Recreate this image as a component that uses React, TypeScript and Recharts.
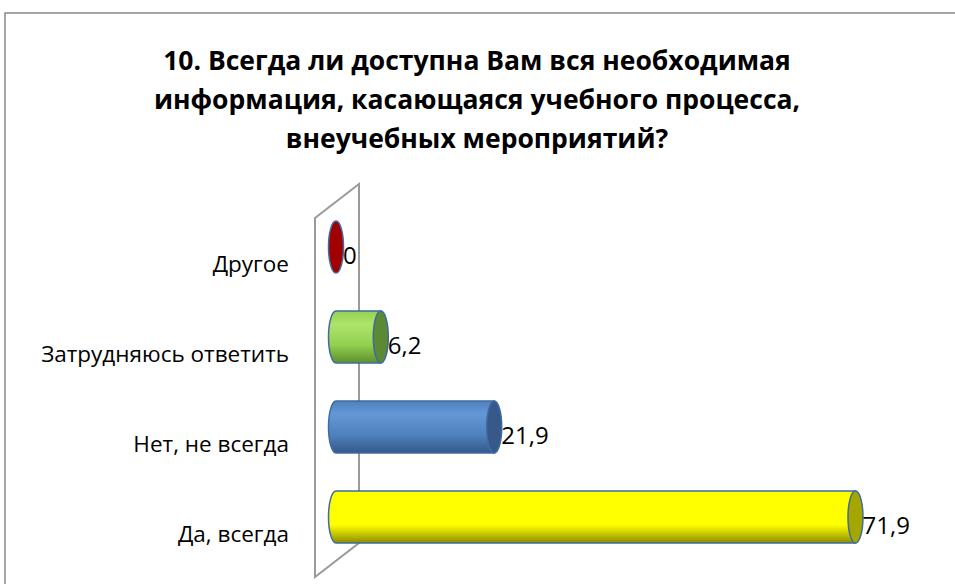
import { BarChart, Bar, XAxis, YAxis, LabelList, Customized } from "recharts";

const categories = ["Другое", "Затрудняюсь ответить", "Нет, не всегда", "Да, всегда"];
const values = [0, 6.2, 21.9, 71.9];
const labels = ["0", "6,2", "21,9", "71,9"];

const palette = [
  { id: "red", light: "#c00000", base: "#a00000", dark: "#6a0000", cap: "#8a0000" },
  { id: "green", light: "#aee46a", base: "#92d050", dark: "#5e8f2c", cap: "#5c8a34" },
  { id: "blue", light: "#6497d6", base: "#4f81bd", dark: "#34598a", cap: "#37598a" },
  { id: "yellow", light: "#ffff00", base: "#ffff00", dark: "#8c8c00", cap: "#a6a600" },
];

const data = categories.map((name, i) => ({ name, value: values[i], label: labels[i] }));

const W = 955;
const H = 584;
const FONT = "'Open Sans', 'Noto Sans', sans-serif";
const STROKE = "#3f6b9e";

function Cylinder(props: any) {
  const { x, y, width, height, index } = props;
  const c = palette[index];
  const rx = 7.5;
  const ry = height / 2;
  const cy = y + ry;
  if (width < 1) {
    return <ellipse cx={x} cy={cy} rx={rx} ry={ry} fill={c.base} stroke={STROKE} strokeWidth={1.5} />;
  }
  return (
    <g>
      <path
        d={`M ${x} ${y} L ${x + width} ${y} L ${x + width} ${y + height} L ${x} ${y + height} A ${rx} ${ry} 0 0 1 ${x} ${y} Z`}
        fill={`url(#grad-${c.id})`}
        stroke={STROKE}
        strokeWidth={1.5}
      />
      <ellipse cx={x + width} cy={cy} rx={rx} ry={ry} fill={c.cap} stroke={STROKE} strokeWidth={1.5} />
    </g>
  );
}

function CategoryTick(props: any) {
  const { x, y, payload } = props;
  return (
    <text x={x - 39} y={y + 25} textAnchor="end" fontFamily={FONT} fontSize={22.5} fill="#000">
      {payload.value}
    </text>
  );
}

function ValueLabel(props: any) {
  const { x, y, width, height, value } = props;
  return (
    <text x={x + width + 7} y={y + height / 2 + 17} fontFamily={FONT} fontSize={24} fill="#000">
      {value}
    </text>
  );
}

function Wall() {
  return (
    <g>
      <rect x={5} y={13} width={1000} height={700} fill="none" stroke="#888" strokeWidth={1.5} />
      <text textAnchor="middle" fontFamily={FONT} fontWeight="bold" fontSize={26.5} fill="#000">
        <tspan x={477} y={70}>10. Всегда ли доступна Вам вся необходимая</tspan>
        <tspan x={477} y={109}>информация, касающаяся учебного процесса,</tspan>
        <tspan x={477} y={148}>внеучебных мероприятий?</tspan>
      </text>
      <polygon points="315,218 359,184 359,543 315,577" fill="none" stroke="#9a9a9a" strokeWidth={2} />
    </g>
  );
}

export default function App() {
  return (
    <div style={{ position: "absolute", left: 0, top: 0, width: W, height: H, background: "#fff" }}>
      <BarChart width={W} height={H} data={data} layout="vertical" margin={{ top: 202, right: 41, bottom: 22, left: 0 }} barSize={52}>
        <defs>
          {palette.map((c) => (
            <linearGradient key={c.id} id={`grad-${c.id}`} x1="0" y1="0" x2="0" y2="1">
              <stop offset="0%" stopColor={c.base} />
              <stop offset="25%" stopColor={c.light} />
              <stop offset="65%" stopColor={c.base} />
              <stop offset="100%" stopColor={c.dark} />
            </linearGradient>
          ))}
        </defs>
        <Customized component={Wall} />
        <XAxis type="number" domain={[0, 80]} hide />
        <YAxis type="category" dataKey="name" width={336} axisLine={false} tickLine={false} tick={<CategoryTick />} />
        <Bar dataKey="value" shape={<Cylinder />} isAnimationActive={false}>
          <LabelList dataKey="label" content={<ValueLabel />} />
        </Bar>
      </BarChart>
    </div>
  );
}
